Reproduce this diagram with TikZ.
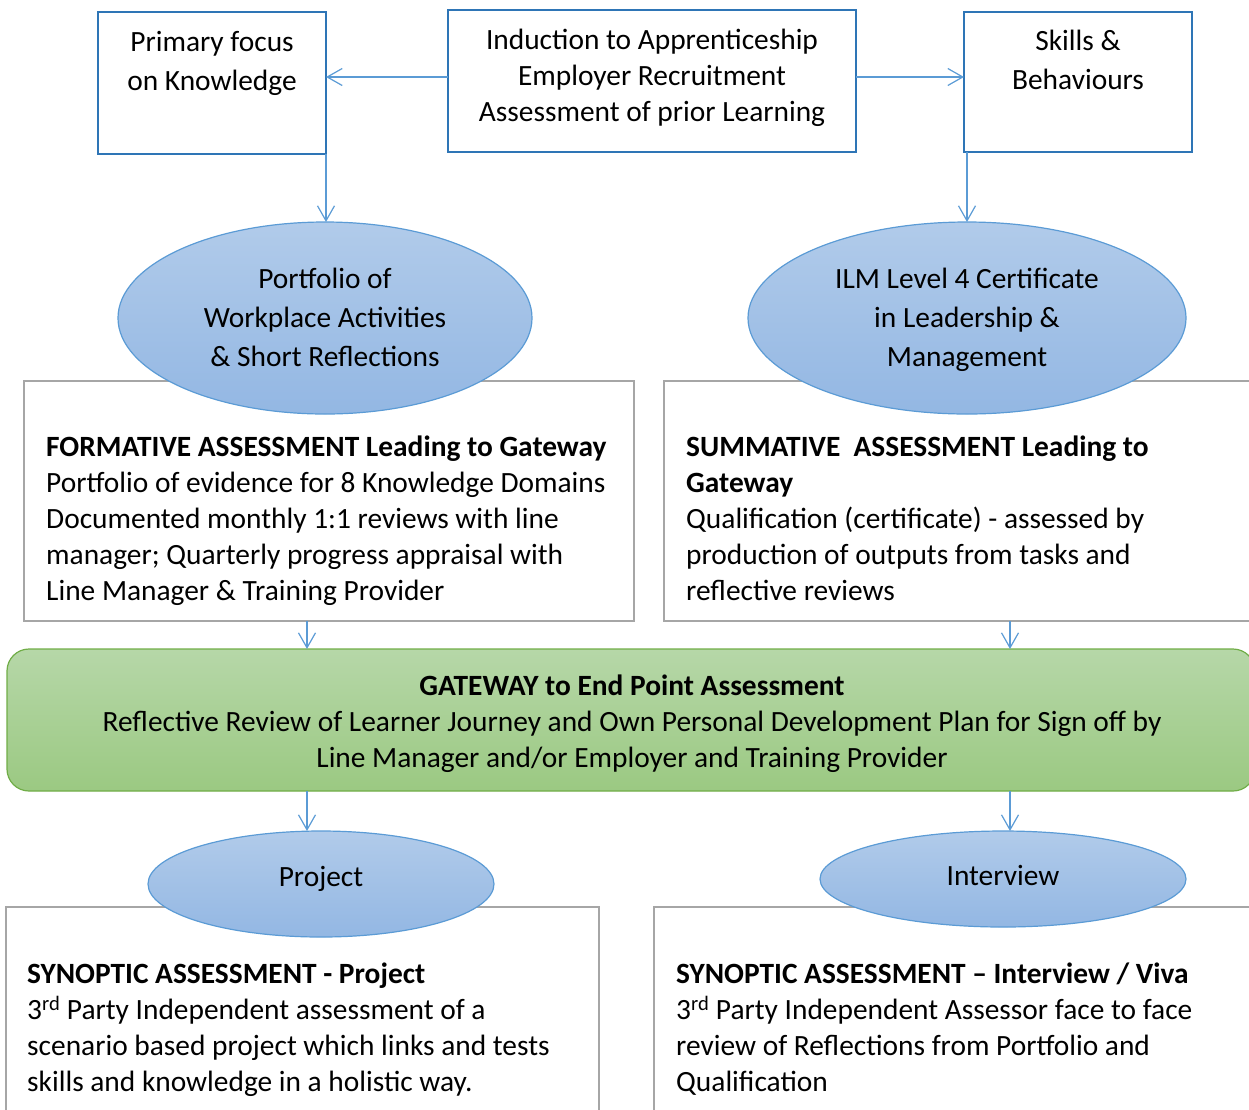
\documentclass[tikz,border=0pt]{standalone}
\usepackage{fontspec}
\setmainfont{Carlito}
\usepackage{xcolor}
\usetikzlibrary{positioning,arrows.meta,shapes.geometric}

\definecolor{boxblue}{HTML}{2E75B6}
\definecolor{arrblue}{HTML}{5B9BD5}
\definecolor{elltop}{HTML}{B1CBEA}
\definecolor{ellbot}{HTML}{93B7E3}
\definecolor{boxgray}{HTML}{A6A6A6}
\definecolor{gatetop}{HTML}{B6D7A8}
\definecolor{gatebot}{HTML}{9BC982}
\definecolor{gateline}{HTML}{70AD47}

\begin{document}
\begin{tikzpicture}[x=1pt, y=-1pt, font=\fontsize{29.4}{36}\selectfont,
    topbox/.style={rectangle, draw=boxblue, line width=2pt, fill=white, inner sep=0pt, outer sep=0pt},
    greybox/.style={rectangle, draw=boxgray, line width=2.2pt, fill=white, inner sep=0pt, outer sep=0pt},
    bubble/.style={ellipse, draw=arrblue, line width=1.2pt, top color=elltop, bottom color=ellbot, inner sep=0pt, outer sep=0pt},
    gatebox/.style={rectangle, rounded corners=22pt, draw=gateline, line width=1.2pt, top color=gatetop, bottom color=gatebot, inner sep=0pt, outer sep=0pt},
    txt/.style={inner sep=0pt, align=center},
    ltxt/.style={inner sep=0pt, align=left, anchor=west},
    arrow/.style={-{Straight Barb[length=15pt, width=17pt]}, arrblue, line width=1.2pt}]

    \useasboundingbox (0,0) rectangle (1249,1109);
    \clip (0,0) rectangle (1249,1109);

    % top row
    \node[topbox, minimum width=228pt, minimum height=142pt] (know) at (212,83) {};
    \node[topbox, minimum width=408pt, minimum height=142pt] (induct) at (652,81) {};
    \node[topbox, minimum width=228pt, minimum height=140pt] (skills) at (1078,82) {};
    \node[txt, font=\fontsize{29.4}{39}\selectfont] (knowtxt) at (212,63) {Primary focus\\on Knowledge};
    \node[txt] (inducttxt) at (652,78) {Induction to Apprenticeship\\Employer Recruitment\\Assessment of prior Learning};
    \node[txt, font=\fontsize{29.4}{39}\selectfont] (skillstxt) at (1078,60) {Skills \&\\Behaviours};

    % assessment boxes
    \node[greybox, minimum width=610pt, minimum height=240pt] (form) at (329,501) {};
    \node[greybox, minimum width=610pt, minimum height=240pt] (summ) at (969,501) {};
    \node[ltxt] (formtxt) at (46,521) {\textbf{FORMATIVE ASSESSMENT Leading to Gateway}\\Portfolio of evidence for 8 Knowledge Domains\\Documented monthly 1:1 reviews with line\\manager; Quarterly progress appraisal with\\Line Manager \& Training Provider};
    \node[ltxt] (summtxt) at (686,518) {\textbf{SUMMATIVE~ ASSESSMENT Leading to}\\\textbf{Gateway}\\Qualification (certificate) - assessed by\\production of outputs from tasks and\\reflective reviews};

    % ellipses on top of the boxes
    \node[bubble, minimum width=414pt, minimum height=192pt] (port) at (325,318) {};
    \node[bubble, minimum width=438pt, minimum height=192pt] (ilm) at (967,318) {};
    \node[txt, font=\fontsize{29.4}{39}\selectfont] (porttxt) at (325,317) {Portfolio of\\Workplace Activities\\\& Short Reflections};
    \node[txt, font=\fontsize{29.4}{39}\selectfont] (ilmtxt) at (967,320) {ILM Level 4 Certificate\\in Leadership \&\\Management};

    % gateway
    \node[gatebox, minimum width=1248pt, minimum height=142pt] (gate) at (631,720) {};
    \node[txt] (gatetxt) at (632,724) {\textbf{GATEWAY to End Point Assessment}\\Reflective Review of Learner Journey and Own Personal Development Plan for Sign off by\\Line Manager and/or Employer and Training Provider};

    % synoptic boxes
    \node[greybox, minimum width=593pt, minimum height=240pt] (synl) at (302.5,1027) {};
    \node[greybox, minimum width=620pt, minimum height=240pt] (synr) at (964,1027) {};
    \node[ltxt] (synltxt) at (27,1030) {\textbf{SYNOPTIC ASSESSMENT - Project}\\3\textsuperscript{rd} Party Independent assessment of a\\scenario based project which links and tests\\skills and knowledge in a holistic way.};
    \node[ltxt] (synrtxt) at (676,1029) {\textbf{SYNOPTIC ASSESSMENT -- Interview / Viva}\\3\textsuperscript{rd} Party Independent Assessor face to face\\review of Reflections from Portfolio and\\Qualification};

    \node[bubble, minimum width=346pt, minimum height=106pt] (proj) at (321,884) {};
    \node[bubble, minimum width=366pt, minimum height=96pt] (intv) at (1003,879) {};
    \node[txt] (projtxt) at (321,879) {Project};
    \node[txt] (intvtxt) at (1003,875) {Interview};

    % connectors
    \draw[arrow] ([yshift=4pt]induct.west) -- ([yshift=4pt]induct.west -| know.east);
    \draw[arrow] ([yshift=4pt]induct.east) -- ([yshift=4pt]induct.east -| skills.west);
    \draw[arrow] (know.south east) -- (know.south east |- port.north);
    \draw[arrow] (ilm.north |- skills.south) -- (ilm.north);
    \draw[arrow] ([xshift=-22pt]form.south) -- ([xshift=-22pt]form.south |- gate.north);
    \draw[arrow] ([xshift=41pt]summ.south) -- ([xshift=41pt]summ.south |- gate.north);
    \draw[arrow] ([xshift=-22pt]form.south |- gate.south) -- ([xshift=-22pt]form.south |- proj.north);
    \draw[arrow] ([xshift=41pt]summ.south |- gate.south) -- ([xshift=41pt]summ.south |- intv.north);
\end{tikzpicture}
\end{document}
